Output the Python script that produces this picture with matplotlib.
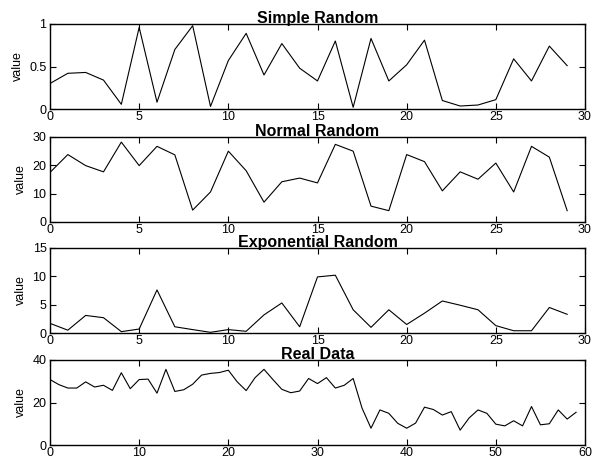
import matplotlib as mpl
mpl.use('Agg')
import matplotlib.pyplot as plt

plt.rcParams['font.family'] = ['Liberation Sans', 'DejaVu Sans']

# data
simpleRandom = [0.30, 0.42, 0.43, 0.34, 0.055, 0.96, 0.08, 0.70, 0.98, 0.03,
                0.57, 0.89, 0.40, 0.77, 0.48, 0.33, 0.80, 0.02, 0.83, 0.33,
                0.52, 0.81, 0.10, 0.035, 0.047, 0.11, 0.59, 0.33, 0.74, 0.51]
normalRandom = [17.5, 23.8, 19.9, 17.7, 28.2, 19.9, 26.7, 23.7, 4.2, 10.6,
                25.0, 18.1, 7.0, 14.2, 15.5, 13.8, 27.4, 25.0, 5.6, 4.0,
                23.8, 21.3, 11.0, 17.7, 15.1, 20.8, 10.6, 26.7, 22.9, 4.0]
expRandom = [1.7, 0.5, 3.1, 2.7, 0.24, 0.7, 7.6, 1.1, 0.6, 0.12,
             0.6, 0.3, 3.2, 5.3, 1.1, 9.9, 10.2, 4.1, 1.0, 4.1,
             1.5, 3.5, 5.65, 4.9, 4.1, 1.3, 0.4, 0.4, 4.5, 3.3]
realData = [30.8, 28.4, 26.8, 26.8, 29.7, 27.3, 28.1, 25.7, 34.0, 26.5,
            30.8, 31.0, 24.4, 35.6, 25.2, 26.0, 28.6, 32.9, 33.7, 34.1,
            35.2, 29.7, 25.6, 31.7, 35.6, 30.8, 26.2, 24.6, 25.4, 31.3,
            28.9, 31.7, 26.8, 28.1, 31.3, 17.3, 7.9, 16.5, 14.9, 10.2,
            7.9, 10.3, 17.8, 16.7, 14.1, 15.7, 7.0, 12.7, 16.5, 14.9,
            9.8, 9.0, 11.4, 9.0, 18.1, 9.5, 10.0, 16.5, 12.2, 15.4]

titles = ['Simple Random', 'Normal Random', 'Exponential Random', 'Real Data']
series = [simpleRandom, normalRandom, expRandom, realData]
yTicks = [[0, 0.5, 1], [0, 10, 20, 30], [0, 5, 10, 15], [0, 20, 40]]
yTickLabels = [['0', '0.5', '1'], ['0', '10', '20', '30'],
               ['0', '5', '10', '15'], ['0', '20', '40']]
xTicks = [list(range(0, 31, 5))] * 3 + [list(range(0, 61, 10))]

W, H = 597.0, 459.0
tops = [24, 137, 248, 360]
axHeight = 85
left, right = 50, 585

fig = plt.figure(figsize=(W / 100, H / 100), dpi=100)
for i in range(4):
    top = tops[i]
    ax = fig.add_axes([left / W, (H - top - axHeight) / H,
                       (right - left) / W, axHeight / H])
    ys = series[i]
    ax.plot(range(len(ys)), ys, color='black', linewidth=0.8)
    ax.set_xlim(xTicks[i][0], xTicks[i][-1])
    ax.set_ylim(yTicks[i][0], yTicks[i][-1])
    ax.set_xticks(xTicks[i])
    ax.set_yticks(yTicks[i])
    ax.set_yticklabels(yTickLabels[i])
    ax.tick_params(direction='in', top=True, right=True, length=4,
                   width=0.8, labelsize=9)
    ax.tick_params(axis='x', pad=1.5)
    ax.tick_params(axis='y', pad=2.5)
    for s in ax.spines.values():
        s.set_linewidth(1.0)
    ax.set_ylabel('value', fontsize=9, labelpad=4)
    ax.set_title(titles[i], fontsize=11.5, fontweight='bold', pad=1)

plt.savefig('out.png', dpi=100)
